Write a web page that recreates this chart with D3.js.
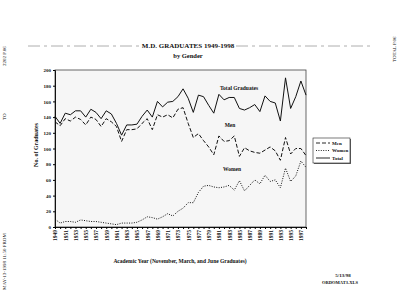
<!DOCTYPE html>
<meta charset="utf-8">
<script src="https://d3js.org/d3.v7.min.js"></script>
<style>
	body{
		margin:0;
		background:#fff;
		font-family:'Liberation Serif', serif;
	}
	text{
		font-family:'Liberation Serif', serif;
		fill:#111;
	}
</style>
<div id="chart"></div>
<script>
	// values
	var years = d3.range(1949, 1999)
	var total = [141,132,145,143,148,148,140,150,146,138,148,144,132,117,130,130,131,141,149,140,160,153,159,160,166,176,164,146,168,166,155,145,169,162,165,165,151,149,152,156,147,167,160,158,135,190,151,166,186,168]
	var men = [134,129,138,135,140,137,130,140,137,128,138,134,128,109,124,124,125,132,138,124,143,140,143,139,150,152,132,114,119,110,102,92,116,109,110,116,90,101,97,95,94,98,102,97,85,114,93,100,100,91]
	var women = [10,5,7,7,6,9,8,7,7,6,5,4,3,5,5,5,6,9,13,12,10,13,17,14,20,24,31,31,44,52,53,51,50,51,53,47,59,46,53,60,55,66,58,60,50,75,58,65,84,76]
	var yTicks = d3.range(0, 201, 20)

	var series = [
		{name:"Men", values:men, dash:"4,2"},
		{name:"Women", values:women, dash:"1,1.4"},
		{name:"Total", values:total, dash:null}
	]

	var w = 400
	var h = 308
	var svg = d3.select("#chart").append("svg").attr("width",w).attr("height",h)

	// note: "top" is taken by window.top, so use pl/pr/pt/pb
	var pl = 55, pr = 306, pt = 70, pb = 227
	var x = d3.scalePoint().domain(years).range([pl,pr])
	var y = d3.scaleLinear().domain([0,200]).range([pb,pt])

	// fax header bits along the edges
	svg.append("text").attr("transform","translate(6,66) rotate(-90)").style("font-size","5px").attr("fill","#555").text("2202    P.06")
	svg.append("text").attr("transform","translate(6,120) rotate(-90)").style("font-size","5px").attr("fill","#555").text("TO")
	svg.append("text").attr("transform","translate(6,290) rotate(-90)").style("font-size","5px").attr("fill","#555").text("MAY-13-1998  11:50   FROM")
	svg.append("text").attr("transform","translate(396,62) rotate(-90)").style("font-size","5px").attr("fill","#555").text("TOTAL P.06")

	// title rule and title
	svg.append("line").attr("x1",28).attr("x2",140).attr("y1",46).attr("y2",46).attr("stroke","#999").attr("stroke-width",0.8).attr("stroke-dasharray","12,4,3,4")
	svg.append("line").attr("x1",236).attr("x2",370).attr("y1",46).attr("y2",46).attr("stroke","#999").attr("stroke-width",0.8).attr("stroke-dasharray","12,4,3,4")
	svg.append("text").attr("x",188).attr("y",48).attr("text-anchor","middle").style("font-size","7px").style("font-weight","bold").text("M.D. GRADUATES 1949-1998")
	svg.append("text").attr("x",188).attr("y",58).attr("text-anchor","middle").style("font-size","6.5px").style("font-weight","bold").text("by Gender")

	// plot area
	svg.append("rect").attr("x",pl).attr("y",pt).attr("width",pr-pl).attr("height",pb-pt)
		.attr("fill","#f6f6f6").attr("stroke","#444").attr("stroke-width",0.8)

	var yAxis = svg.append("g").attr("transform","translate("+pl+",0)")
		.call(d3.axisLeft(y).tickValues(yTicks).tickSize(2).tickPadding(2))
	yAxis.select(".domain").attr("stroke","#111")
	yAxis.selectAll("text").style("font-size","5px").style("font-weight","bold").attr("font-family","'Liberation Serif', serif")

	var xAxis = svg.append("g").attr("transform","translate(0,"+pb+")")
		.call(d3.axisBottom(x).tickValues(years).tickSize(2).tickFormat(function(d){ return (d-1949)%2==0 ? d : "" }))
	xAxis.select(".domain").attr("stroke","#111")
	xAxis.selectAll("text")
		.style("font-size","5.5px").style("font-weight","bold").attr("font-family","'Liberation Serif', serif")
		.attr("text-anchor","end").attr("transform","rotate(-90)").attr("x",-3).attr("y",0).attr("dy","0.35em")

	svg.append("text").attr("transform","translate(38,145) rotate(-90)").attr("text-anchor","middle")
		.style("font-size","6px").style("font-weight","bold").text("No. of Graduates")
	svg.append("text").attr("x",180).attr("y",263).attr("text-anchor","middle")
		.style("font-size","5.5px").style("font-weight","bold").text("Academic Year (November, March, and June Graduates)")

	// lines
	var line = d3.line().x(function(d,i){ return x(years[i]) }).y(function(d){ return y(d) })
	svg.append("g").selectAll("path").data(series).join("path")
		.attr("d",function(d){ return line(d.values) })
		.attr("fill","none").attr("stroke","#111").attr("stroke-width",1)
		.attr("stroke-dasharray",function(d){ return d.dash })

	// inline labels
	svg.append("text").attr("x",239).attr("y",90).attr("text-anchor","middle").style("font-size","5.5px").style("font-weight","bold").text("Total Graduates")
	svg.append("text").attr("x",230).attr("y",127).attr("text-anchor","middle").style("font-size","5.5px").style("font-weight","bold").text("Men")
	svg.append("text").attr("x",232).attr("y",171).attr("text-anchor","middle").style("font-size","5.5px").style("font-weight","bold").text("Women")

	// legend
	var lg = svg.append("g").attr("transform","translate(313,138)")
	lg.append("rect").attr("x",1).attr("y",1).attr("width",37).attr("height",25).attr("fill","#666")
	lg.append("rect").attr("width",37).attr("height",25).attr("fill","#fff").attr("stroke","#222").attr("stroke-width",0.6)
	var items = lg.selectAll("g").data(series).join("g").attr("transform",function(d,i){ return "translate(0,"+(5+i*7.5)+")" })
	items.append("line").attr("x1",3).attr("x2",17).attr("stroke","#111").attr("stroke-width",0.9)
		.attr("stroke-dasharray",function(d){ return d.dash })
	items.append("text").attr("x",19).attr("y",1.8).style("font-size","5px").style("font-weight","bold").text(function(d){ return d.name })

	// footer
	svg.append("text").attr("x",343).attr("y",277).attr("text-anchor","middle").style("font-size","5px").style("font-weight","bold").text("5/13/98")
	svg.append("text").attr("x",340).attr("y",284).attr("text-anchor","middle").style("font-size","4.5px").style("font-weight","bold").text("ORDOMAT3.XLS")
</script>
